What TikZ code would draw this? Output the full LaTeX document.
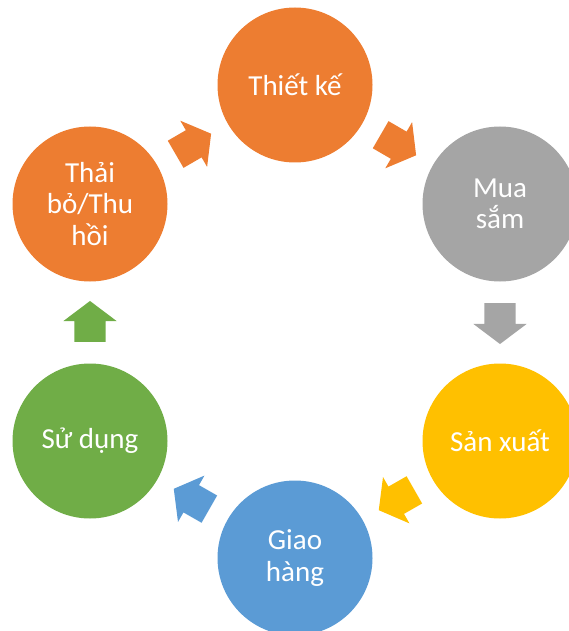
\documentclass[tikz,border=0pt]{standalone}
\usepackage{fontspec}
\setmainfont{Carlito}
\usetikzlibrary{shapes.arrows}

\definecolor{accorange}{HTML}{ED7D31}
\definecolor{accgray}{HTML}{A5A5A5}
\definecolor{accyellow}{HTML}{FFC000}
\definecolor{accblue}{HTML}{5B9BD5}
\definecolor{accgreen}{HTML}{70AD47}

\begin{document}
\begin{tikzpicture}[x=1pt, y=-1pt,
stage/.style={circle, minimum size=155pt, inner sep=0pt, text=white, align=center,
font=\fontsize{29}{31.5}\selectfont},
stage-orange/.style={stage, fill=accorange},
stage-gray/.style={stage, fill=accgray},
stage-yellow/.style={stage, fill=accyellow},
stage-blue/.style={stage, fill=accblue},
stage-green/.style={stage, fill=accgreen},
flow/.style={single arrow, minimum height=41pt, inner xsep=0pt, inner ysep=15.5pt,
single arrow head extend=11pt, single arrow tip angle=106, pos=0.44, sloped, allow upside down}
]
\useasboundingbox (0,0) rectangle (568,631);

\node[stage-orange] (design) at (295,85) {Thiết kế};
\node[stage-gray] (purchase) at (500,204) {Mua\\sắm};
\node[stage-yellow] (produce) at (500,441) {Sản xuất};
\node[stage-blue] (deliver) at (295,558) {Giao\\hàng};
\node[stage-green] (use) at (90,441) {Sử dụng};
\node[stage-orange] (dispose) at (90,204) {Thải\\bỏ/Thu\\hồi};

\path (dispose) -- (design) node[flow, fill=accorange] {};
\path (design) -- (purchase) node[flow, fill=accorange] {};
\path (purchase) -- (produce) node[flow, fill=accgray] {};
\path (produce) -- (deliver) node[flow, fill=accyellow] {};
\path (deliver) -- (use) node[flow, fill=accblue] {};
\path (use) -- (dispose) node[flow, fill=accgreen] {};
\end{tikzpicture}
\end{document}
